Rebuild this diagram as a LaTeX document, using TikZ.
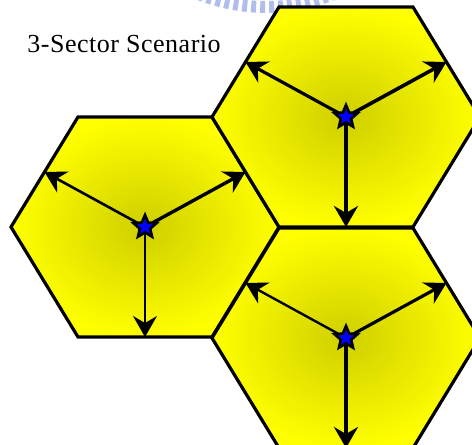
\documentclass[tikz,border=0pt]{standalone}
\usepackage{fontspec}
\setmainfont{Liberation Serif}
\usepackage{tikz}
\usetikzlibrary{arrows.meta,shapes.geometric}
\definecolor{Cell}{HTML}{FFFF00}
\definecolor{CellDark}{HTML}{CFCF00}
\definecolor{Mark}{HTML}{9DAEE6}

\begin{document}
\begin{tikzpicture}[x=0.5pt,y=0.5pt,>={Stealth[length=10.5pt,width=12pt,inset=3.5pt]}]
  \tikzstyle{cell}=[draw=black,line width=1.6pt,inner color=CellDark,outer color=Cell]
  \tikzstyle{bs}=[star,star points=5,star point ratio=2.2,minimum size=12pt,inner sep=0pt,draw=black,line width=1.3pt,fill=blue]
  \tikzstyle{beam}=[->]
  \useasboundingbox (0,0) rectangle (472,445);
  \clip (0,0) rectangle (472,445);
  % faded logo cut by the top edge
  \draw[Mark,opacity=0.8,line width=6pt,dash pattern=on 2.5pt off 2pt] (266,620) ++(220:182) arc[start angle=220,end angle=320,radius=182];
  % three cells, with the sector ends on the edge midpoints
  \foreach \c/\x/\y in {l/145/218,tr/346/328,br/346/107}{
    \path[cell] (\x-134,\y) -- (\x-67,\y+110) -- (\x+67,\y+110) -- (\x+134,\y)
      -- (\x+67,\y-110) -- (\x-67,\y-110) -- cycle;
    \coordinate (\c) at (\x,\y);
    \coordinate (\c-nw) at (\x-100.5,\y+55);
    \coordinate (\c-ne) at (\x+100.5,\y+55);
    \coordinate (\c-s) at (\x,\y-110);
  }
  \draw[beam,line width=1.3pt] (l) -- (l-nw);
  \draw[beam,line width=1.7pt] (l) -- (l-ne);
  \draw[beam,line width=0.6pt] (l) -- (l-s);
  \draw[beam,line width=1.6pt] (tr) -- (tr-nw);
  \draw[beam,line width=1.8pt] (tr) -- (tr-ne);
  \draw[beam,line width=1.7pt] (tr) -- (tr-s);
  \draw[beam,line width=1.2pt] (br) -- (br-nw);
  \draw[beam,line width=1.6pt] (br) -- (br-ne);
  \draw[beam,line width=1.7pt] (br) -- (br-s);
  \node[bs] (l-bs) at (l) {};
  \node[bs] (tr-bs) at (tr) {};
  \node[bs] (br-bs) at (br) {};
  \node[anchor=base west,inner sep=0pt,font=\fontsize{13}{15}\selectfont\addfontfeatures{LetterSpace=2}] (title) at (27,392) {3-Sector Scenario};
\end{tikzpicture}
\end{document}
